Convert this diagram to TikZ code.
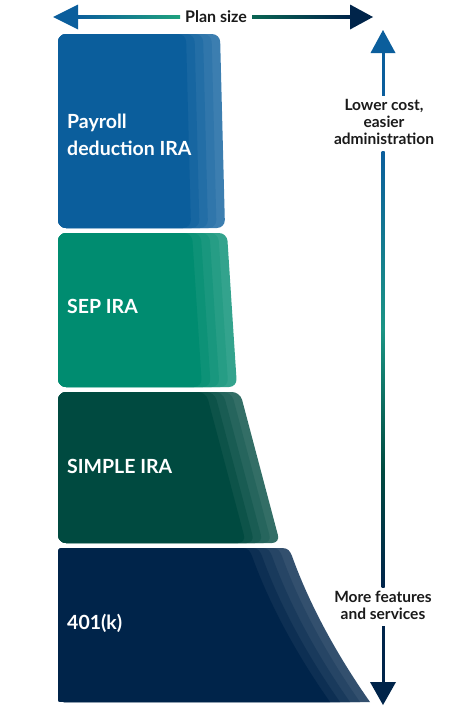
\documentclass[tikz,border=0pt]{standalone}
\usepackage{fontspec}
\setmainfont{Lato}
\definecolor{blueA}{HTML}{0B5E9C}
\definecolor{greenA}{HTML}{008C70}
\definecolor{dgreenA}{HTML}{004A40}
\definecolor{navyA}{HTML}{00244A}
\definecolor{tealA}{HTML}{1FA27E}
\definecolor{txtA}{HTML}{1A1A1A}
\newcommand\layblock[6]{%
  \foreach \k in {0,...,4} {%
    \pgfmathsetmacro\sh{\k*#6}%
    \pgfmathtruncatemacro\mx{80+5*\k}%
    \fill[#1!\mx!white, rounded corners=8pt] (58,#2) -- (#4-\sh,#2) -- (#5-\sh,#3) -- (58,#3) -- cycle;
  }}
\begin{document}
\begin{tikzpicture}[x=1pt,y=-1pt,
  blocklabel/.style={text=white,font=\fontsize{19.5}{27}\selectfont\bfseries,align=left,inner sep=0pt,anchor=north west},
  sidelabel/.style={text=txtA,font=\fontsize{15.5}{17}\selectfont\bfseries,align=center,inner sep=0pt,anchor=north}]
\useasboundingbox (0,0) rectangle (470,720);
% blocks
\layblock{blueA}{34}{228}{220}{225}{8.5}
\layblock{greenA}{233}{387}{227}{237}{8.75}
\layblock{dgreenA}{392}{543}{240}{280}{8.5}
\foreach \k in {0,...,4} {%
  \pgfmathsetmacro\s{\k*10}%
  \pgfmathtruncatemacro\mx{80+5*\k}%
  \fill[navyA!\mx!white] (66,548) -- (282-\s,548) .. controls (288-\s,548) and (290-\s,551) .. (292-\s,556)
    .. controls (306-\s,595) and (330-\s,645) .. (370-\s,702) -- (64,702) .. controls (58,702) .. (58,696)
    -- (58,556) .. controls (58,548) .. (66,548) -- cycle;
}
% labels
\node[blocklabel] (payroll) at (67,113.5) {Payroll\\deduction IRA};
\node[blocklabel] (sep) at (67,299.5) {SEP IRA};
\node[blocklabel] (simple) at (67,459.5) {SIMPLE IRA};
\node[blocklabel] (k401) at (67,613.5) {401(k)};
% horizontal arrow
\node[text=txtA,font=\fontsize{16}{18}\selectfont\bfseries,inner sep=0pt] (plan) at (216,17) {Plan size};
\coordinate (hl) at (53,17);
\coordinate (hr) at (373,17);
\fill[blueA] (hl) -- (78,4.5) -- (78,29.5) -- cycle;
\fill[navyA] (hr) -- (350,4.5) -- (350,29.5) -- cycle;
\shade[left color=blueA,right color=tealA] (77,15.5) rectangle (180,18.5);
\shade[left color=dgreenA!70!tealA,right color=navyA] (252,15.5) rectangle (351,18.5);
% vertical arrow
\node[sidelabel] (lower) at (384,99.5) {Lower cost,\\easier\\administration};
\node[sidelabel] (more) at (383,591) {More features\\and services};
\coordinate (vt) at (383,30);
\coordinate (vb) at (383,705);
\fill[blueA] (vt) -- (370.5,53) -- (395.5,53) -- cycle;
\fill[navyA] (vb) -- (370,682) -- (396,682) -- cycle;
\fill[blueA] (381.5,52) rectangle (384.5,96);
\shade[top color=blueA,bottom color=tealA!80!blueA] (381.5,151) rectangle (384.5,330);
\shade[top color=tealA!80!blueA,bottom color=dgreenA] (381.5,329) rectangle (384.5,470);
\shade[top color=dgreenA,bottom color=navyA] (381.5,469) rectangle (384.5,587);
\fill[navyA] (381.5,626) rectangle (384.5,683);
\end{tikzpicture}
\end{document}
